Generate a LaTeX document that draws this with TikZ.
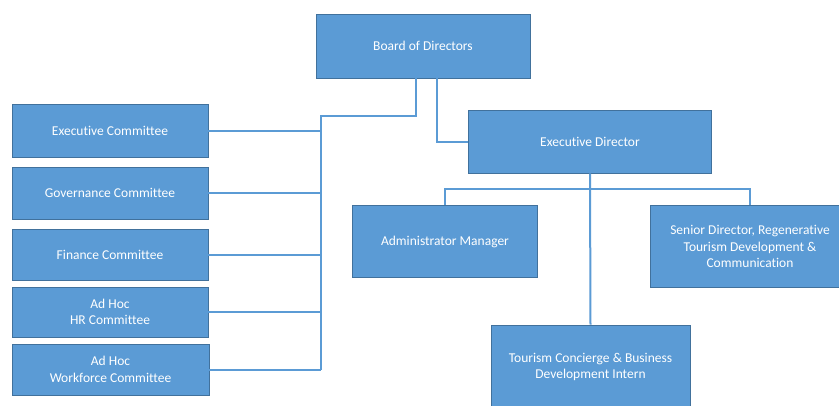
\documentclass[tikz,border=0pt]{standalone}
\usepackage{fontspec}
\setmainfont[Ligatures=NoCommon]{Carlito}
\usepackage{tikz}
\usetikzlibrary{positioning, calc}
\definecolor{orgblue}{RGB}{91,155,213}
\definecolor{orgedge}{RGB}{65,113,156}

\begin{document}
\begin{tikzpicture}[x=1pt, y=-1pt,
  orgbox/.style={draw=orgedge, line width=0.8pt, fill=orgblue, text=white, align=center,
                 inner sep=2pt, font=\fontsize{13.5}{16.7}\selectfont},
  link/.style={draw=orgblue, line width=2pt}]
\clip (0,0) rectangle (839,405);
\fill[white] (0,0) rectangle (839,405);

% top
\node[orgbox, minimum width=214pt, minimum height=64pt] (board) at (423,46) {Board of Directors};

% committees
\node[orgbox, minimum width=196pt, minimum height=53.5pt] (execc) at (110,130.7) {Executive Committee};
\node[orgbox, minimum width=196pt, minimum height=52pt] (govc) at (110,193) {Governance Committee};
\node[orgbox, minimum width=196pt, minimum height=51pt] (finc) at (110,254.6) {Finance Committee};
\node[orgbox, minimum width=196pt, minimum height=50pt] (hrc) at (110,312) {Ad Hoc\\HR Committee};
\node[orgbox, minimum width=197pt, minimum height=51pt] (wfc) at (110.5,369.5) {Ad Hoc\\Workforce Committee};

% staff
\node[orgbox, minimum width=242.5pt, minimum height=63pt] (exdir) at (590,141.5) {Executive Director};
\node[orgbox, minimum width=185pt, minimum height=72.5pt] (admin) at (445,241.5) {Administrator Manager};
\node[orgbox, minimum width=200pt, minimum height=82.5pt] (senior) at (750,246.5)
  {Senior Director, Regenerative\\Tourism Development \&\\Communication};
\node[orgbox, minimum width=199pt, minimum height=84pt] (intern) at (590.5,367)
  {Tourism Concierge \& Business\\Development Intern};

\coordinate (trunk) at (320.7,116);
\coordinate (bus) at (590,189.3);

% board to committees
\draw[link] ([xshift=-7pt]board.south) |- (trunk) -- (trunk |- wfc.east);
\foreach \c in {execc, govc, finc, hrc, wfc}
  \draw[link] (\c.east) -- (\c.east -| trunk);

% board to executive director
\draw[link] ([xshift=14pt]board.south) |- (exdir.west);

% executive director to staff
\draw[link] (exdir.south) -- (intern.north);
\draw[link] (admin.north) |- (bus) -| (senior.north);
\end{tikzpicture}
\end{document}
